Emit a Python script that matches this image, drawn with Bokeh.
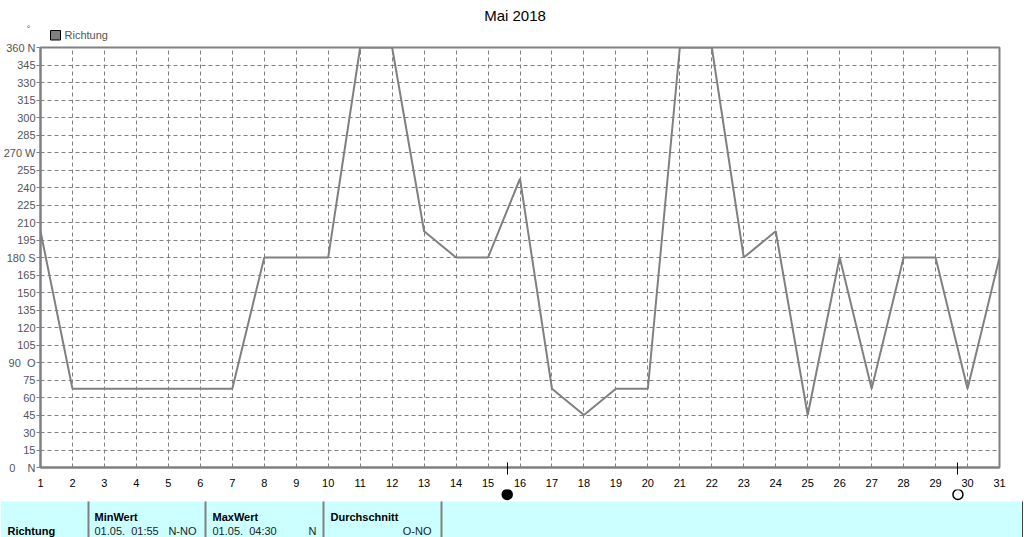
from bokeh.plotting import figure
from bokeh.models import Range1d, FixedTicker
from bokeh.layouts import column
from bokeh.embed import file_html
from bokeh.resources import INLINE
from bokeh.core.properties import value

# ---- data ----
title_text = "Mai 2018"
series_name = "Richtung"
days = list(range(1, 32))
richtung = [202.5, 67.5, 67.5, 67.5, 67.5, 67.5, 67.5, 180, 180, 180,
            360, 360, 202.5, 180, 180, 247.5, 67.5, 45, 67.5, 67.5,
            360, 360, 180, 202.5, 45, 180, 67.5, 180, 180, 67.5, 180]
y_ticks = list(range(0, 361, 15))
y_tick_names = {0: "0\u00a0\u00a0\u00a0\u00a0N", 90: "90\u00a0\u00a0O", 180: "180 S",
                270: "270 W", 360: "360 N"}
new_moon = [15.6]
full_moon = [29.7]
table_headers = ["MinWert", "MaxWert", "Durchschnitt"]
min_wert = ("01.05.\u00a0\u00a001:55", "N-NO")
max_wert = ("01.05.\u00a0\u00a004:30", "N")
durchschnitt = "O-NO"

FONT = "Liberation Sans"
GRAY = "#808080"

# ---- layout geometry (page px) ----
W, H = 1024, 537
HEAD_H = 41
LEFT_B, RIGHT_B, TOP_B, BOT_B = 40, 25, 6, 21
FRAME_H = 421
FIG1_H = TOP_B + FRAME_H + BOT_B
FIG2_H = H - HEAD_H - FIG1_H
ppd = (W - LEFT_B - RIGHT_B) / 30.0


def plain_fig(h):
    f = figure(width=W, height=h, x_range=Range1d(0, W), y_range=Range1d(h, 0),
               output_backend="svg", toolbar_location=None,
               min_border_left=0, min_border_right=0, min_border_top=0, min_border_bottom=0,
               x_axis_location=None, y_axis_location=None)
    f.frame_align = False
    f.grid.visible = False
    f.outline_line_color = None
    f.background_fill_color = "white"
    f.border_fill_color = "white"
    return f


# ---- header: title, degree sign, legend ----
h = plain_fig(HEAD_H)
h.text(x=[514.5], y=[15], text=[title_text], text_font=value(FONT), text_font_size="15px",
       text_align="center", text_baseline="middle", text_color="black")
h.text(x=[28], y=[28], text=["°"], text_font=value(FONT), text_font_size="9px",
       text_align="center", text_baseline="middle", text_color="#555555")
h.quad(left=[50], right=[60], top=[30], bottom=[39.5], fill_color=GRAY, line_color="black",
       line_width=1)
h.text(x=[64], y=[34], text=[series_name], text_font=value(FONT), text_font_size="11px",
       text_align="left", text_baseline="middle", text_color="#555555")

# ---- main chart ----
p = figure(width=W, height=FIG1_H, x_range=Range1d(1, 31), y_range=Range1d(0, 360),
           output_backend="svg", toolbar_location=None,
           min_border_left=LEFT_B, min_border_right=RIGHT_B,
           min_border_top=TOP_B, min_border_bottom=BOT_B)
p.frame_align = False
p.background_fill_color = "white"
p.border_fill_color = "white"
p.outline_line_color = GRAY
p.outline_line_width = 2

p.xaxis.ticker = FixedTicker(ticks=days, minor_ticks=new_moon + full_moon)
p.xaxis.major_tick_line_color = None
p.xaxis.major_tick_out = 0
p.xaxis.major_tick_in = 0
p.xaxis.minor_tick_line_color = "black"
p.xaxis.minor_tick_line_width = 1
p.xaxis.minor_tick_in = 5
p.xaxis.minor_tick_out = 7
p.xaxis.axis_line_color = GRAY
p.xaxis.axis_line_width = 2
p.xaxis.major_label_standoff = 4
p.xaxis.major_label_text_font = FONT
p.xaxis.major_label_text_font_size = "11px"
p.xaxis.major_label_text_color = "black"

p.yaxis.ticker = FixedTicker(ticks=y_ticks)
p.yaxis.major_label_overrides = y_tick_names
p.yaxis.major_tick_line_color = GRAY
p.yaxis.major_tick_out = 4
p.yaxis.major_tick_in = 0
p.yaxis.minor_tick_line_color = None
p.yaxis.axis_line_color = GRAY
p.yaxis.axis_line_width = 2
p.yaxis.major_label_standoff = 1
p.yaxis.major_label_text_font = FONT
p.yaxis.major_label_text_font_size = "11px"
p.yaxis.major_label_text_color = "#555555"

for g in (p.xgrid, p.ygrid):
    g.grid_line_color = GRAY
    g.grid_line_dash = "4 3"
    g.grid_line_width = 1

p.line(days, richtung, line_color=GRAY, line_width=2)

# ---- bottom: moon symbols + table ----
d0 = 1 - LEFT_B / ppd
d1 = 31 + RIGHT_B / ppd
q = plain_fig(FIG2_H)
q.extra_x_ranges = {"days": Range1d(d0, d1)}

q.scatter(x=new_moon, y=[5], x_range_name="days", marker="circle", size=10,
          fill_color="black", line_color="black", line_width=1.5)
q.scatter(x=full_moon, y=[5], x_range_name="days", marker="circle", size=10,
          fill_color="white", line_color="black", line_width=1.5)

T_TOP = 12
q.quad(left=[0], right=[1022], top=[T_TOP], bottom=[FIG2_H], fill_color="#ccffff", line_color=None)
q.segment(x0=[88, 205, 323, 441], y0=[T_TOP] * 4, x1=[88, 205, 323, 441], y1=[FIG2_H] * 4,
          line_color=GRAY, line_width=2)
q.segment(x0=[1022], y0=[T_TOP], x1=[1022], y1=[FIG2_H], line_color="#404040", line_width=1)

hy = T_TOP + 15
vy = T_TOP + 29
q.text(x=[7], y=[vy], text=[series_name], text_font=value(FONT), text_font_size="11px",
       text_font_style="bold", text_baseline="middle", text_color="black")
q.text(x=[94, 212, 330], y=[hy] * 3, text=table_headers, text_font=value(FONT),
       text_font_size="11px", text_font_style="bold", text_baseline="middle", text_color="black")
q.text(x=[94, 212], y=[vy] * 2, text=[min_wert[0], max_wert[0]], text_font=value(FONT),
       text_font_size="11px", text_baseline="middle", text_color="#222222")
q.text(x=[196, 316, 431], y=[vy] * 3, text=[min_wert[1], max_wert[1], durchschnitt],
       text_font=value(FONT), text_font_size="11px", text_baseline="middle",
       text_align="right", text_color="#222222")

layout = column(h, p, q, spacing=0)
open("out.html", "w").write(file_html(layout, INLINE))
